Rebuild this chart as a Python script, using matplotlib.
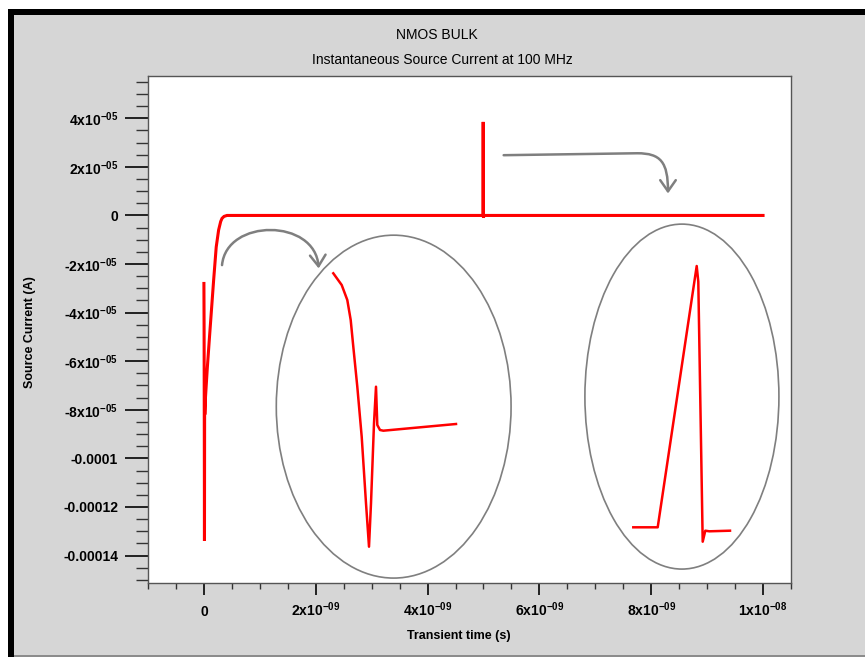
import matplotlib
matplotlib.use('Agg')
import matplotlib.pyplot as plt
from matplotlib.patches import Ellipse, Rectangle, FancyArrowPatch
from matplotlib.path import Path
from matplotlib.ticker import MultipleLocator

plt.rcParams['font.family'] = ['Liberation Sans', 'DejaVu Sans']
plt.rcParams['mathtext.fontset'] = 'custom'
plt.rcParams['mathtext.rm'] = 'Liberation Sans:bold'
plt.rcParams['mathtext.it'] = 'Liberation Sans:bold'
plt.rcParams['mathtext.bf'] = 'Liberation Sans:bold'

# ---------------- data ----------------
time_s = [0.0, 0.003e-9, 0.007e-9, 0.010e-9, 0.013e-9, 0.015e-9, 0.025e-9,
          0.06e-9, 0.10e-9, 0.174e-9, 0.22e-9, 0.263e-9, 0.30e-9, 0.324e-9,
          0.36e-9, 0.413e-9, 1.0e-9, 3.0e-9, 4.99e-9, 4.995e-9, 5.0e-9,
          5.005e-9, 6.0e-9, 8.0e-9, 1.0e-8]
current_a = [-2.8e-5, -4.5e-5, -9.0e-5, -1.34e-4, -7.3e-5, -8.2e-5, -7.6e-5,
             -6.3e-5, -5.0e-5, -2.66e-5, -1.3e-5, -6.0e-6, -2.5e-6, -1.2e-6,
             -4.0e-7, 0.0, 0.0, 0.0, 0.0, 3.85e-5, -1.0e-6,
             0.0, 0.0, 0.0, 0.0]

x_ticks = [0, 2e-9, 4e-9, 6e-9, 8e-9, 1e-8]
x_tick_labels = ['0', r'2x10$^{-09}$', r'4x10$^{-09}$', r'6x10$^{-09}$',
                 r'8x10$^{-09}$', r'1x10$^{-08}$']
y_ticks = [4e-5, 2e-5, 0, -2e-5, -4e-5, -6e-5, -8e-5, -1e-4, -1.2e-4, -1.4e-4]
y_tick_labels = [r'4x10$^{-05}$', r'2x10$^{-05}$', '0', r'-2x10$^{-05}$',
                 r'-4x10$^{-05}$', r'-6x10$^{-05}$', r'-8x10$^{-05}$',
                 '-0.0001', '-0.00012', '-0.00014']

# zoomed detail of the start-up transient (arbitrary units)
inset1_t = [3.3, 11.7, 17.3, 20.7, 23.3, 27.3, 31.7, 36.0, 39.0, 41.0,
            44.0, 46.0, 47.3, 50.0, 53.3, 126.0]
inset1_i = [-13.3, -25.0, -40.0, -60.0, -86.7, -126.7, -176.7, -243.3,
            -286.7, -243.3, -163.3, -126.7, -165.0, -170.0, -170.7, -164.0]
# zoomed detail of the 5 ns switching spike (arbitrary units)
inset2_t = [3.3, 27.7, 66.7, 68.3, 72.7, 75.3, 79.3, 100.0]
inset2_i = [-267.3, -267.3, -6.0, -21.7, -281.7, -270.7, -271.3, -270.7]

# ---------------- figure ----------------
W, H = 865, 657
BG = '#d6d6d6'
fig = plt.figure(figsize=(W / 100, H / 100), dpi=100, facecolor=BG)


def px_rect(x0, y0, x1, y1):
    return [x0 / W, 1 - y1 / H, (x1 - x0) / W, (y1 - y0) / H]


# window frame
for (x, y, w, h, c) in [(0, 1 - 9 / H, 1, 9 / H, 'white'),
                        (0, 0, 8 / W, 1, 'white'),
                        (8 / W, 1 - 15 / H, 1, 6 / H, 'black'),
                        (8 / W, 0, 6 / W, 1 - 9 / H, 'black'),
                        (14 / W, 0, 1, 2 / H, '#8c8c8c')]:
    fig.patches.append(Rectangle((x, y), w, h, transform=fig.transFigure,
                                 facecolor=c, edgecolor='none', zorder=-1))

ax = fig.add_axes(px_rect(148, 76, 791, 583))
ax.set_facecolor('white')
ax.plot(time_s, current_a, color='#ff0000', lw=2.2, solid_joinstyle='miter',
        zorder=3)

ax.set_xlim(-1e-9, 1.05e-8)
ax.set_ylim(-1.513e-4, 5.74e-5)
ax.set_xticks(x_ticks, x_tick_labels)
ax.set_yticks(y_ticks, y_tick_labels)
ax.xaxis.set_minor_locator(MultipleLocator(5e-10))
ax.yaxis.set_minor_locator(MultipleLocator(5e-6))
ax.tick_params(axis='x', which='major', direction='out', length=8.6,
               width=1.4, color='#222222', pad=15, labelsize=10)
ax.tick_params(axis='x', which='minor', direction='out', length=4.3,
               width=1.0, color='#333333')
ax.tick_params(axis='y', which='major', direction='out', length=16.5,
               width=1.4, color='#222222', pad=5, labelsize=10)
ax.tick_params(axis='y', which='minor', direction='out', length=8.6,
               width=1.0, color='#333333')
for lab in ax.get_xticklabels() + ax.get_yticklabels():
    lab.set_fontweight('bold')
for lab in ax.get_xticklabels():
    lab.set_verticalalignment('baseline')
for sp in ax.spines.values():
    sp.set_color('#555555')
    sp.set_linewidth(1.0)

# highlight ellipses
grey = '#7f7f7f'
ax.add_patch(Ellipse((3.394e-9, -7.87e-5), 4.199e-9, 1.4115e-4, fill=False,
                     ec=grey, lw=1.2, zorder=2))
ax.add_patch(Ellipse((8.549e-9, -7.457e-5), 3.47e-9, 1.42e-4, fill=False,
                     ec=grey, lw=1.2, zorder=2))

# curved arrows
p1 = Path([(0.324e-9, -2.045e-5), (0.401e-9, -1.1e-6), (1.993e-9, -1.1e-6),
           (2.052e-9, -2.18e-5)],
          [Path.MOVETO, Path.CURVE4, Path.CURVE4, Path.CURVE4])
p2 = Path([(5.361e-9, 2.48e-5), (7.75e-9, 2.56e-5), (8.17e-9, 2.56e-5),
           (8.30e-9, 2.2e-5), (8.30e-9, 9.05e-6)],
          [Path.MOVETO, Path.LINETO, Path.CURVE4, Path.CURVE4, Path.CURVE4])
for p in (p1, p2):
    ax.add_patch(FancyArrowPatch(path=p, arrowstyle='->,head_length=0.5,head_width=0.35',
                                 mutation_scale=16, color=grey, lw=1.8,
                                 transform=ax.transData, zorder=2))

# insets with zoomed detail
ax1 = fig.add_axes(px_rect(330, 260, 480, 560))
ax1.plot(inset1_t, inset1_i, color='#ff0000', lw=1.8)
ax1.set_xlim(0, 150)
ax1.set_ylim(-300, 0)
ax1.axis('off')

ax2 = fig.add_axes(px_rect(630, 260, 740, 560))
ax2.plot(inset2_t, inset2_i, color='#ff0000', lw=1.8)
ax2.set_xlim(0, 110)
ax2.set_ylim(-300, 0)
ax2.axis('off')

# titles and labels
fig.text(437 / W, 1 - 35 / H, 'NMOS BULK', ha='center', va='center',
         fontsize=10)
fig.text(442 / W, 1 - 60 / H, 'Instantaneous Source Current at 100 MHz',
         ha='center', va='center', fontsize=10)
fig.text(459 / W, 1 - 636 / H, 'Transient time (s)', ha='center',
         va='center', fontsize=9, fontweight='bold')
fig.text(30 / W, 1 - 332 / H, 'Source Current (A)', ha='center',
         va='center', rotation=90, fontsize=9, fontweight='bold')

fig.savefig('out.png', dpi=100, facecolor=BG)
